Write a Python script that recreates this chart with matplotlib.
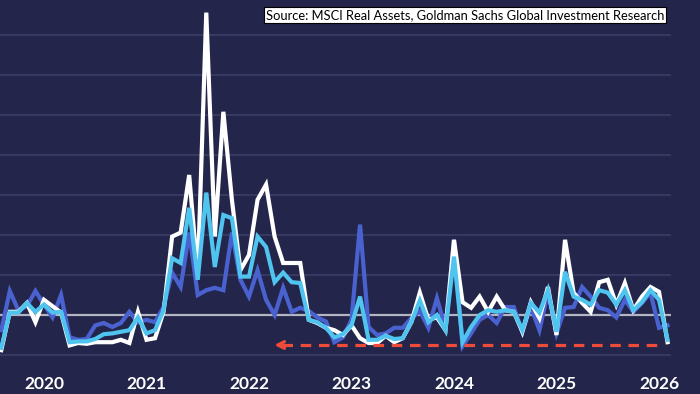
import numpy as np
import matplotlib
matplotlib.use("Agg")
import matplotlib.pyplot as plt

# monthly readings, Aug 2019 .. Feb 2026 (y/y %)
start_year = 2019 + 7 / 12
white_vals = [-44, 4, 4, 15, -9, 19, 11, 3, -38, -35, -36, -34, -34, -34, -31, -35,
              4, -31, -29, 4, 98, 103, 175, 50, 378, 98, 254, 144, 56, 75, 144, 163,
              98, 65, 65, 65, -6, -10, -16, -19, -25, -13, -29, -35, -35, -26, -34, -29,
              -9, 28, -6, -3, -19, 94, 16, 9, 23, 4, 23, 6, 4, -21, 16, -4,
              35, -25, 94, 28, 15, 4, 41, 44, 13, 40, 6, 23, 35, 29, -34]
cyan_vals = [-41, 3, 3, 15, 4, 13, 3, 4, -34, -33, -33, -30, -24, -23, -21, -19,
             -3, -23, -19, 6, 71, 65, 134, 44, 153, 60, 125, 121, 48, 48, 98, 85,
             41, 53, 41, 40, -6, -9, -16, -28, -24, -13, 23, -31, -31, -26, -30, -29,
             -9, 18, -9, 0, -19, 73, -34, -15, 0, 6, 4, 6, 4, -19, 15, 3,
             31, -21, 54, 23, 19, 13, 31, 28, 13, 31, 6, 16, 31, 19, -31]
blue_vals = [-19, 30, 6, 11, 30, 13, -3, 25, -28, -31, -30, -13, -10, -15, -10, 4,
             -9, -6, -9, 10, 53, 35, 103, 25, 31, 34, 31, 103, 44, 23, 56, 19,
             0, 34, 4, 9, 5, -3, -8, -34, -28, -6, 113, -15, -25, -23, -16, -16,
             -4, 5, -16, 21, -16, 94, -39, -23, -6, 0, -10, 10, 10, -21, 10, -19,
             28, -23, 9, 10, 35, 23, 9, 6, -3, 19, 4, 15, 28, -16, -13]
years = [2020, 2021, 2022, 2023, 2024, 2025, 2026]
source = "Source: MSCI Real Assets, Goldman Sachs Global Investment Research"

t = start_year + np.arange(len(white_vals)) / 12

bg = "#23254a"
fig = plt.figure(figsize=(7, 3.94), dpi=100, facecolor=bg)
ax = fig.add_axes([0, 1 - 362 / 394, 671 / 700, 362 / 394])
ax.set_facecolor(bg)

for g in range(-50, 400, 50):
    if g == 0:
        ax.axhline(g, color="#b4b5c2", lw=1.6, zorder=1)
    else:
        ax.axhline(g, color="#3b3e66", lw=1.2, zorder=1)

ax.plot(t, blue_vals, color="#4a62cf", lw=3.0, zorder=3, solid_joinstyle="miter")
ax.plot(t, white_vals, color="white", lw=3.0, zorder=4, solid_joinstyle="miter")
ax.plot(t, cyan_vals, color="#4fc4ef", lw=3.0, zorder=5, solid_joinstyle="miter")

# red dashed arrow pointing back to 2022
red = "#ee4b3b"
ax.plot([2022.32, 2026.01], [-37.5, -37.5], color=red, lw=2.3,
        linestyle=(0, (3.3, 2.4)), zorder=6, solid_capstyle="butt")
ax.annotate("", xy=(2022.22, -37.5), xytext=(2022.36, -37.5),
            arrowprops=dict(arrowstyle="->", color=red, lw=2.3,
                            mutation_scale=12), zorder=6)

ax.set_xlim(2019.571, 2026.117)
ax.set_ylim(-58.75, 393.75)
ax.set_xticks(years)
ax.set_xticklabels([str(y) for y in years])
ax.set_yticks([])
ax.tick_params(axis="x", length=0, pad=10, colors="white")
for lab in ax.get_xticklabels():
    lab.set_fontfamily(["Lato", "DejaVu Sans"])
    lab.set_fontweight("bold")
    lab.set_fontsize(12.5)
for s in ax.spines.values():
    s.set_visible(False)

fig.text(664 / 700, 1 - 15 / 394, source, ha="right", va="center",
         fontsize=9.25, family=["Lato", "DejaVu Sans"], color="black",
         bbox=dict(boxstyle="square,pad=0.15", facecolor="white",
                   edgecolor="black", lw=0.8))

fig.savefig("out.png", dpi=100, facecolor=bg)
